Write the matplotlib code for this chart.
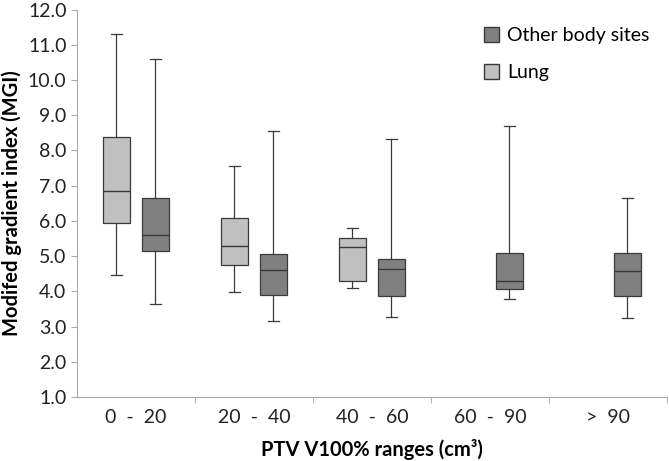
import matplotlib.pyplot as plt
from matplotlib.patches import Patch

plt.rcParams['font.family'] = ['Lato', 'DejaVu Sans']

categories = ['0  -  20', '20  -  40', '40  -  60', '60  -  90', '>  90']

# Lung (only first three ranges)
lung_whislo = [4.45, 3.97, 4.08]
lung_q1 = [5.95, 4.75, 4.30]
lung_med = [6.85, 5.30, 5.25]
lung_q3 = [8.37, 6.08, 5.52]
lung_whishi = [11.30, 7.55, 5.80]

# Other body sites
oth_whislo = [3.65, 3.15, 3.27, 3.77, 3.25]
oth_q1 = [5.15, 3.90, 3.88, 4.07, 3.88]
oth_med = [5.60, 4.60, 4.63, 4.28, 4.57]
oth_q3 = [6.65, 5.05, 4.93, 5.10, 5.10]
oth_whishi = [10.60, 8.55, 8.33, 8.70, 6.65]

lung_color = '#c0c0c0'
oth_color = '#808080'
edge = '#3a3a3a'


def stats(lo, q1, med, q3, hi):
    return [dict(whislo=a, q1=b, med=c, q3=d, whishi=e, fliers=[])
            for a, b, c, d, e in zip(lo, q1, med, q3, hi)]


fig = plt.figure(figsize=(6.69, 4.61), dpi=100)
ax = fig.add_axes([0.115, 0.139, 0.882, 0.840])

off = 0.165
w = 0.23
common = dict(widths=w, patch_artist=True, showfliers=False, capwidths=0.09,
              whiskerprops=dict(color=edge, lw=0.9),
              capprops=dict(color=edge, lw=0.9),
              medianprops=dict(color=edge, lw=1.0))

ax.bxp(stats(lung_whislo, lung_q1, lung_med, lung_q3, lung_whishi),
       positions=[i - off for i in range(len(lung_med))],
       boxprops=dict(facecolor=lung_color, edgecolor=edge, lw=0.9), **common)
ax.bxp(stats(oth_whislo, oth_q1, oth_med, oth_q3, oth_whishi),
       positions=[i + off for i in range(len(oth_med))],
       boxprops=dict(facecolor=oth_color, edgecolor=edge, lw=0.9), **common)

ax.set_xlim(-0.5, len(categories) - 0.5)
ax.set_ylim(1.0, 12.0)
ax.set_yticks([i for i in range(1, 13)])
ax.set_yticklabels([f'{i:.1f}' for i in range(1, 13)])
ax.set_xticks(range(len(categories)))
ax.set_xticklabels(categories)
ax.set_xticks([i + 0.5 for i in range(len(categories))], minor=True)
ax.tick_params(axis='x', which='major', length=0, pad=9, labelsize=14, colors='#222222')
ax.tick_params(axis='x', which='minor', length=4, color='#aaaaaa')
ax.tick_params(axis='y', length=4, color='#aaaaaa', labelsize=14, labelcolor='#222222')

for s in ['top', 'right']:
    ax.spines[s].set_visible(False)
for s in ['left', 'bottom']:
    ax.spines[s].set_color('#aaaaaa')

ax.set_ylabel('Modifed gradient index (MGI)', fontsize=14.5, fontweight='bold', labelpad=4)
ax.set_xlabel('PTV V100% ranges (cm³)', fontsize=14.5, fontweight='bold', labelpad=9)

handles = [Patch(facecolor=oth_color, edgecolor=edge, label='Other body sites'),
           Patch(facecolor=lung_color, edgecolor=edge, label='Lung')]
ax.legend(handles=handles, loc='upper right', bbox_to_anchor=(1.0, 1.0), frameon=False,
          fontsize=14, handlelength=0.8, handleheight=0.8, handletextpad=0.4,
          labelspacing=1.0)

fig.savefig('out.png', dpi=100)
